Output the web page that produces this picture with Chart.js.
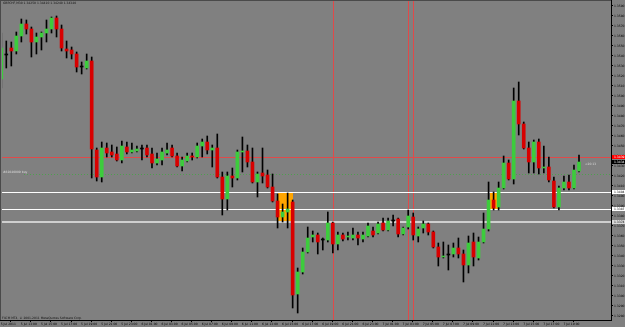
<!DOCTYPE html>
<html><head><meta charset="utf-8">
<script src="https://cdn.jsdelivr.net/npm/chart.js@4.4.1/dist/chart.umd.min.js"></script>
<style>html,body{margin:0;padding:0;background:#808080;overflow:hidden}canvas{display:block}</style>
</head><body>
<canvas id="c" width="625" height="327" style="width:625px;height:327px"></canvas>
<script>
// GBPCHF M30 candles, 5 Jul 2011 11:00 onwards
const opens=[
1.3517,1.3541,1.3548,1.3545,1.3560,1.3572,1.3567,1.3554,1.3559,1.3563,
1.3567,1.3578,1.3567,1.3547,1.3546,1.3542,1.3529,1.3528,1.3535,1.3446,
1.3419,1.3448,1.3444,1.3442,1.3436,1.3449,1.3444,1.3445,1.3447,1.3448,
1.3442,1.3433,1.3436,1.3443,1.3448,1.3440,1.3430,1.3435,1.3440,1.3439,
1.3450,1.3454,1.3446,1.3448,1.3419,1.3397,1.3420,1.3418,1.3444,1.3445,
1.3434,1.3414,1.3423,1.3421,1.3409,1.3395,1.3379,1.3384,1.3394,1.3302,
1.3324,1.3344,1.3359,1.3361,1.3356,1.3356,1.3373,1.3352,1.3361,1.3359,
1.3358,1.3361,1.3357,1.3360,1.3365,1.3363,1.3373,1.3366,1.3375,1.3377,
1.3362,1.3369,1.3379,1.3360,1.3368,1.3372,1.3364,1.3349,1.3339,1.3341,
1.3342,1.3348,1.3342,1.3331,1.3354,1.3338,1.3354,1.3367,1.3396,1.3389,
1.3408,1.3433,1.3417,1.3495,1.3472,1.3448,1.3434,1.3454,1.3428,1.3429,
1.3415,1.3389,1.3408,1.3414,1.3408,1.3425];
const highs=[
1.3563,1.3555,1.3554,1.3564,1.3577,1.3576,1.3569,1.3563,1.3564,1.3576,
1.3579,1.3580,1.3571,1.3555,1.3549,1.3544,1.3534,1.3542,1.3539,1.3448,
1.3454,1.3453,1.3451,1.3449,1.3455,1.3454,1.3453,1.3450,1.3451,1.3451,
1.3448,1.3443,1.3448,1.3453,1.3451,1.3443,1.3439,1.3443,1.3443,1.3453,
1.3457,1.3460,1.3451,1.3462,1.3424,1.3424,1.3428,1.3446,1.3459,1.3451,
1.3448,1.3424,1.3448,1.3426,1.3422,1.3402,1.3392,1.3403,1.3396,1.3328,
1.3348,1.3369,1.3365,1.3363,1.3358,1.3384,1.3374,1.3364,1.3363,1.3364,
1.3368,1.3364,1.3364,1.3373,1.3369,1.3374,1.3378,1.3378,1.3381,1.3378,
1.3369,1.3386,1.3383,1.3369,1.3375,1.3373,1.3365,1.3353,1.3354,1.3351,
1.3353,1.3358,1.3346,1.3360,1.3363,1.3359,1.3383,1.3414,1.3404,1.3414,
1.3440,1.3436,1.3508,1.3514,1.3474,1.3454,1.3456,1.3457,1.3450,1.3439,
1.3419,1.3410,1.3420,1.3421,1.3431,1.3441];
const lows=[
1.3508,1.3528,1.3530,1.3542,1.3554,1.3562,1.3539,1.3542,1.3546,1.3554,
1.3563,1.3559,1.3545,1.3538,1.3537,1.3524,1.3522,1.3527,1.3418,1.3415,
1.3414,1.3439,1.3439,1.3435,1.3433,1.3442,1.3443,1.3444,1.3436,1.3439,
1.3428,1.3431,1.3431,1.3441,1.3439,1.3429,1.3425,1.3434,1.3436,1.3438,
1.3439,1.3442,1.3429,1.3418,1.3381,1.3386,1.3409,1.3416,1.3424,1.3429,
1.3413,1.3399,1.3413,1.3408,1.3394,1.3368,1.3374,1.3368,1.3288,1.3283,
1.3322,1.3343,1.3354,1.3342,1.3346,1.3354,1.3343,1.3346,1.3355,1.3356,
1.3356,1.3351,1.3354,1.3359,1.3359,1.3362,1.3365,1.3365,1.3370,1.3359,
1.3361,1.3367,1.3356,1.3354,1.3363,1.3361,1.3348,1.3330,1.3338,1.3326,
1.3339,1.3338,1.3314,1.3323,1.3330,1.3336,1.3353,1.3365,1.3386,1.3386,
1.3407,1.3416,1.3412,1.3461,1.3447,1.3423,1.3423,1.3422,1.3423,1.3414,
1.3388,1.3386,1.3406,1.3406,1.3407,1.3424];
const closes=[
1.3548,1.3541,1.3545,1.3560,1.3572,1.3567,1.3554,1.3559,1.3563,1.3567,
1.3578,1.3567,1.3548,1.3545,1.3542,1.3529,1.3529,1.3535,1.3447,1.3419,
1.3448,1.3443,1.3441,1.3436,1.3450,1.3444,1.3446,1.3447,1.3447,1.3441,
1.3433,1.3437,1.3444,1.3446,1.3440,1.3430,1.3436,1.3440,1.3439,1.3450,
1.3454,1.3446,1.3448,1.3419,1.3397,1.3420,1.3418,1.3444,1.3445,1.3434,
1.3414,1.3422,1.3420,1.3409,1.3395,1.3379,1.3384,1.3387,1.3301,1.3324,
1.3344,1.3358,1.3361,1.3354,1.3356,1.3373,1.3352,1.3361,1.3357,1.3360,
1.3361,1.3358,1.3361,1.3370,1.3361,1.3372,1.3366,1.3375,1.3375,1.3362,
1.3368,1.3380,1.3361,1.3367,1.3372,1.3364,1.3349,1.3339,1.3340,1.3341,
1.3348,1.3342,1.3331,1.3353,1.3339,1.3354,1.3367,1.3396,1.3388,1.3408,
1.3433,1.3417,1.3495,1.3472,1.3448,1.3434,1.3454,1.3428,1.3429,1.3416,
1.3389,1.3408,1.3414,1.3408,1.3426,1.3434];

const xTickLabels=["5 Jul 2011","5 Jul 13:00","5 Jul 15:00","5 Jul 17:00","5 Jul 19:00","5 Jul 21:00","5 Jul 23:00",
"6 Jul 01:00","6 Jul 03:00","6 Jul 05:00","6 Jul 07:00","6 Jul 09:00","6 Jul 11:00","6 Jul 13:00","6 Jul 15:00",
"6 Jul 17:00","6 Jul 19:00","6 Jul 21:00","6 Jul 23:00","7 Jul 01:00","7 Jul 03:00","7 Jul 05:00","7 Jul 07:00",
"7 Jul 09:00","7 Jul 11:00","7 Jul 13:00","7 Jul 15:00","7 Jul 17:00","7 Jul 19:00"];
const xTickCandles=[0,4,8,12,16,20,24,28,32,36,40,44,48,52,56,60,64,68,72,76,80,84,88,92,96,100,104,108,112];
const yTickValues=[1.3590,1.3580,1.3570,1.3560,1.3550,1.3540,1.3530,1.3520,1.3510,1.3500,
1.3490,1.3480,1.3470,1.3460,1.3450,1.3440,1.3430,1.3420,1.3410,1.3400,
1.3390,1.3380,1.3370,1.3360,1.3350,1.3340,1.3330,1.3320,1.3310,1.3300,1.3290,1.3280];

const redLinePrice=1.3439;
const buyLinePrice=1.3422;
const whiteLinePrices=[1.3404,1.3387];
const grayLinePrice=1.3374;
const vLineCandles=[66,81,82];
const zoneStarts=[55,97.3], zoneEnds=[58,98.9], zoneTops=[1.3404,1.3404], zoneBottoms=[1.3374,1.3387];
const symbolTitle="GBPCHF,M30";
const buyLabel="#81040009 buy";
const timerLabel="<20:13";
const copyright="FXCM MT4, \u00A9 2001-2011 MetaQuotes Software Corp.";

const GREEN='#3ccc3c', RED='#d80000', BG='#808080';
const FONT='"DejaVu Sans", sans-serif';

const overlay={
  id:'overlay',
  beforeDraw(chart){
    const ctx=chart.ctx; ctx.save(); ctx.fillStyle=BG; ctx.fillRect(0,0,chart.width,chart.height); ctx.restore();
  },
  beforeDatasetsDraw(chart){
    const {ctx, chartArea:a, scales:{x,y}}=chart;
    ctx.save();
    ctx.fillStyle='#ffa500';
    zoneStarts.forEach((s,k)=>{
      const x0=x.getPixelForValue(s), x1=x.getPixelForValue(zoneEnds[k]);
      const y0=y.getPixelForValue(zoneTops[k]), y1=y.getPixelForValue(zoneBottoms[k]);
      ctx.fillRect(Math.round(x0),Math.round(y0),Math.round(x1-x0),Math.round(y1-y0));
    });
    ctx.fillStyle='#e04a4a';
    vLineCandles.forEach(c=>{const px=Math.round(x.getPixelForValue(c)); ctx.fillRect(px,0,1,a.bottom);});
    const ry=Math.round(y.getPixelForValue(redLinePrice));
    ctx.fillRect(a.left,ry,a.right-a.left,1);
    const by=Math.round(y.getPixelForValue(buyLinePrice));
    ctx.strokeStyle='#4f9f4f'; ctx.lineWidth=1; ctx.setLineDash([1,2]);
    ctx.beginPath(); ctx.moveTo(a.left+22,by+0.5); ctx.lineTo(a.right,by+0.5); ctx.stroke();
    ctx.setLineDash([]);
    ctx.fillStyle='#ffffff';
    whiteLinePrices.forEach(p=>{const py=Math.round(y.getPixelForValue(p)); ctx.fillRect(a.left,py,a.right-a.left,1);});
    ctx.fillStyle='#cfcfcf';
    const gy=Math.round(y.getPixelForValue(grayLinePrice));
    ctx.fillRect(a.left,gy-1,a.right-a.left,2);
    ctx.restore();
  },
  afterDraw(chart){
    const {ctx, chartArea:a, scales:{x,y}}=chart;
    ctx.save();
    ctx.fillStyle='#4a4a4a';
    ctx.fillRect(0,0,a.right,1);
    ctx.fillRect(0,0,1,a.bottom);
    ctx.fillStyle='#000';
    ctx.fillRect(a.right,0,1,a.bottom+1);
    ctx.fillRect(0,a.bottom,a.right,1);
    ctx.font='3px '+FONT;
    ctx.textBaseline='middle'; ctx.textAlign='left';
    const n=closes.length-1;
    const f=v=>v.toFixed(5);
    ctx.fillStyle='#111';
    ctx.fillText(symbolTitle+' '+f(opens[n])+' '+f(highs[n])+' '+f(lows[n])+' '+f(closes[n]),3,3.5);
    ctx.fillText(copyright,2,318);
    ctx.fillStyle='#dddddd';
    ctx.fillText(buyLabel,3,y.getPixelForValue(buyLinePrice)-2);
    ctx.fillText(timerLabel,x.getPixelForValue(n)+6,y.getPixelForValue(closes[n])+2);
    const box=(p,fill,txt)=>{
      const py=y.getPixelForValue(p);
      ctx.fillStyle=fill; ctx.fillRect(a.right+1,Math.round(py)-2,13,4);
      ctx.fillStyle=txt; ctx.fillText(p.toFixed(4),a.right+3,py);
    };
    box(redLinePrice,'#ff0000','#ffffff');
    box(closes[n],'#000000','#ffffff');
    whiteLinePrices.forEach(p=>box(p,'#ffffff','#000000'));
    box(grayLinePrice,'#d8d8d8','#000000');
    ctx.restore();
  }
};

new Chart(document.getElementById('c'),{
  type:'bar',
  data:{datasets:[
    {label:'wick', data:lows.map((l,i)=>({x:i,y:[l,highs[i]]})), backgroundColor:'#000', barThickness:1, grouped:false, order:2},
    {label:'body', data:opens.map((o,i)=>({x:i,y:[o,closes[i]]})),
     backgroundColor:opens.map((o,i)=>closes[i]>o?GREEN:(closes[i]<o?RED:'#000')),
     barThickness:3, minBarLength:1, grouped:false, order:1}
  ]},
  options:{
    responsive:false, animation:false, devicePixelRatio:1, events:[],
    layout:{padding:{left:2,top:2,right:0,bottom:0}},
    plugins:{legend:{display:false},tooltip:{enabled:false},title:{display:false}},
    scales:{
      x:{type:'linear', min:0.145, max:121.37, offset:false,
        grid:{display:true, drawOnChartArea:false, drawTicks:true, tickLength:2, color:'#000'},
        border:{display:false},
        ticks:{autoSkip:false, maxRotation:0, minRotation:0, align:'start', padding:0,
          font:{size:3, family:FONT}, color:'#000', callback:(v,i)=>xTickLabels[i]},
        afterBuildTicks:s=>{s.ticks=xTickCandles.map(c=>({value:c-0.11}));},
        afterFit:s=>{s.height=7; s.paddingLeft=0; s.paddingRight=0;}
      },
      y:{type:'linear', position:'right', min:1.3276, max:1.3594,
        grid:{display:true, drawOnChartArea:false, drawTicks:true, tickLength:2, color:'#000'},
        border:{display:false},
        ticks:{autoSkip:false, padding:1, font:{size:3, family:FONT}, color:'#000', callback:v=>v.toFixed(4)},
        afterBuildTicks:s=>{s.ticks=yTickValues.map(v=>({value:v}));},
        afterFit:s=>{s.width=14; s.paddingTop=0; s.paddingBottom=0;}
      }
    }
  },
  plugins:[overlay]
});
</script>
</body></html>
